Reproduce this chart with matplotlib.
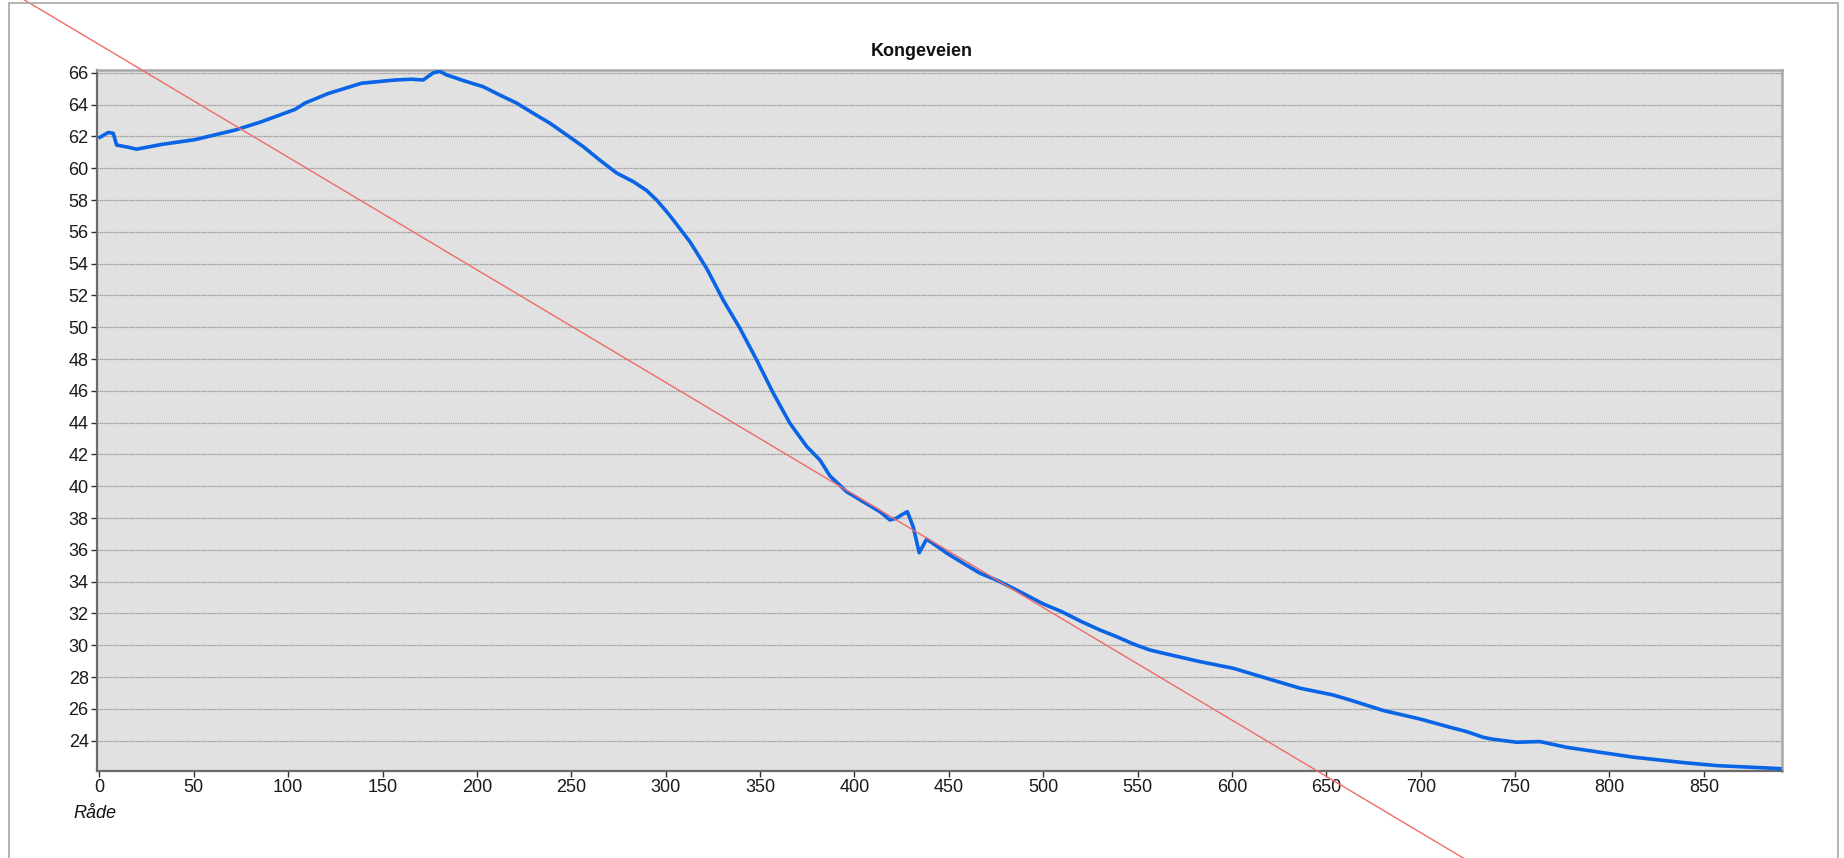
import matplotlib
matplotlib.use("Agg")
import matplotlib.pyplot as plt
from matplotlib.patches import Rectangle
import numpy as np

plt.rcParams['font.family'] = ['Liberation Sans', 'DejaVu Sans']

# Elevation profile along Kongeveien (distance, height)
distance = [0.3, 4.7, 7.3, 9.1, 15.3, 19.7, 33, 50.6, 71.8, 85.9, 103.6, 108.9,
            121.2, 138.9, 156.5, 165.4, 171.5, 176.8, 180.4, 183.9, 194.5,
            203.3, 212.2, 221, 229.8, 238.7, 247.5, 256.3, 265.2, 274, 282.8,
            289.9, 295.2, 300.5, 304, 312.8, 321.7, 330.5, 339.3, 348.2, 357,
            365.8, 374.7, 381.7, 387, 395.8, 404.6, 413.5, 418.8, 422.3, 425,
            428, 431.1, 434.3, 438.2, 441.7, 448.8, 457.6, 466.5, 475.3, 484.1,
            500, 510, 520, 530, 538.9, 547.7, 556.5, 565.4, 583, 600.7, 618.4,
            636, 653.6, 662.5, 680, 700, 715.5, 724.3, 733.1, 737.5, 750.8,
            763.1, 777.3, 794.9, 812.6, 839, 856.8, 874.4, 890.3]
height = [61.95, 62.25, 62.2, 61.46, 61.32, 61.2, 61.5, 61.8, 62.4, 62.93, 63.7,
          64.1, 64.7, 65.35, 65.55, 65.6, 65.55, 66.0, 66.1, 65.87, 65.45,
          65.13, 64.6, 64.1, 63.46, 62.83, 62.1, 61.36, 60.5, 59.7, 59.16,
          58.6, 58.0, 57.27, 56.75, 55.38, 53.7, 51.7, 49.94, 47.94, 45.85,
          43.96, 42.5, 41.65, 40.65, 39.66, 39.03, 38.4, 37.88, 37.99, 38.2,
          38.4, 37.46, 35.82, 36.67, 36.4, 35.8, 35.16, 34.53, 34.1, 33.58,
          32.6, 32.1, 31.5, 30.96, 30.54, 30.08, 29.7, 29.45, 28.97, 28.55,
          27.92, 27.3, 26.87, 26.56, 25.9, 25.35, 24.84, 24.57, 24.21, 24.1,
          23.9, 23.94, 23.58, 23.27, 22.96, 22.62, 22.43, 22.33, 22.24]

# Linear trend line: height = intercept + slope * distance
trend_intercept = 67.77
trend_slope = -0.0708
trend_span = [-60, 780]

title = "Kongeveien"
x_label = "Råde"
x_ticks = list(range(0, 851, 50))
y_ticks = list(range(24, 67, 2))

fig = plt.figure(figsize=(18.44, 8.58), dpi=100)
fig.patch.set_facecolor("white")

# thin outer frame
fig.patches.append(Rectangle((9 / 1844, -0.1), (1838 - 9) / 1844, 1.1 - 3 / 858,
                             transform=fig.transFigure, fill=False,
                             edgecolor="#a8a8a8", linewidth=1.2))

ax = fig.add_axes([97 / 1844, 1 - 771 / 858, (1782 - 97) / 1844, (771 - 70) / 858])
ax.set_facecolor("#e1e1e1")

ax.set_xlim(-1.3, 891.4)
ax.set_ylim(22.09, 66.18)

ax.set_yticks(y_ticks)
ax.set_xticks(x_ticks)
ax.yaxis.grid(True, linestyle=(0, (1.2, 0.6)), color="#9a9a9a", linewidth=0.9)
ax.set_axisbelow(True)

ax.tick_params(axis="both", direction="out", length=4, width=1, color="#303030",
               labelsize=13, labelcolor="#1a1a1a", pad=2)

for side in ("left", "bottom"):
    ax.spines[side].set_color("#6a6a6a")
    ax.spines[side].set_linewidth(1.6)
for side in ("top", "right"):
    ax.spines[side].set_color("#a8a8a8")
    ax.spines[side].set_linewidth(1.8)

ax.plot(distance, height, color="#0a64e6", linewidth=2.6, solid_joinstyle="round",
        zorder=3)

tx = np.array(trend_span, dtype=float)
ty = trend_intercept + trend_slope * tx
ax.plot(tx, ty, color="#f06a6a", linewidth=1.0, clip_on=False, zorder=4)

fig.text(0.5, 1 - 52 / 858, title, ha="center", va="center", fontsize=13,
         fontweight="bold", color="#111111")
fig.text(73 / 1844, 1 - 814 / 858, x_label, ha="left", va="center",
         fontsize=13, style="italic", color="#111111")

fig.savefig("out.png", dpi=100)
